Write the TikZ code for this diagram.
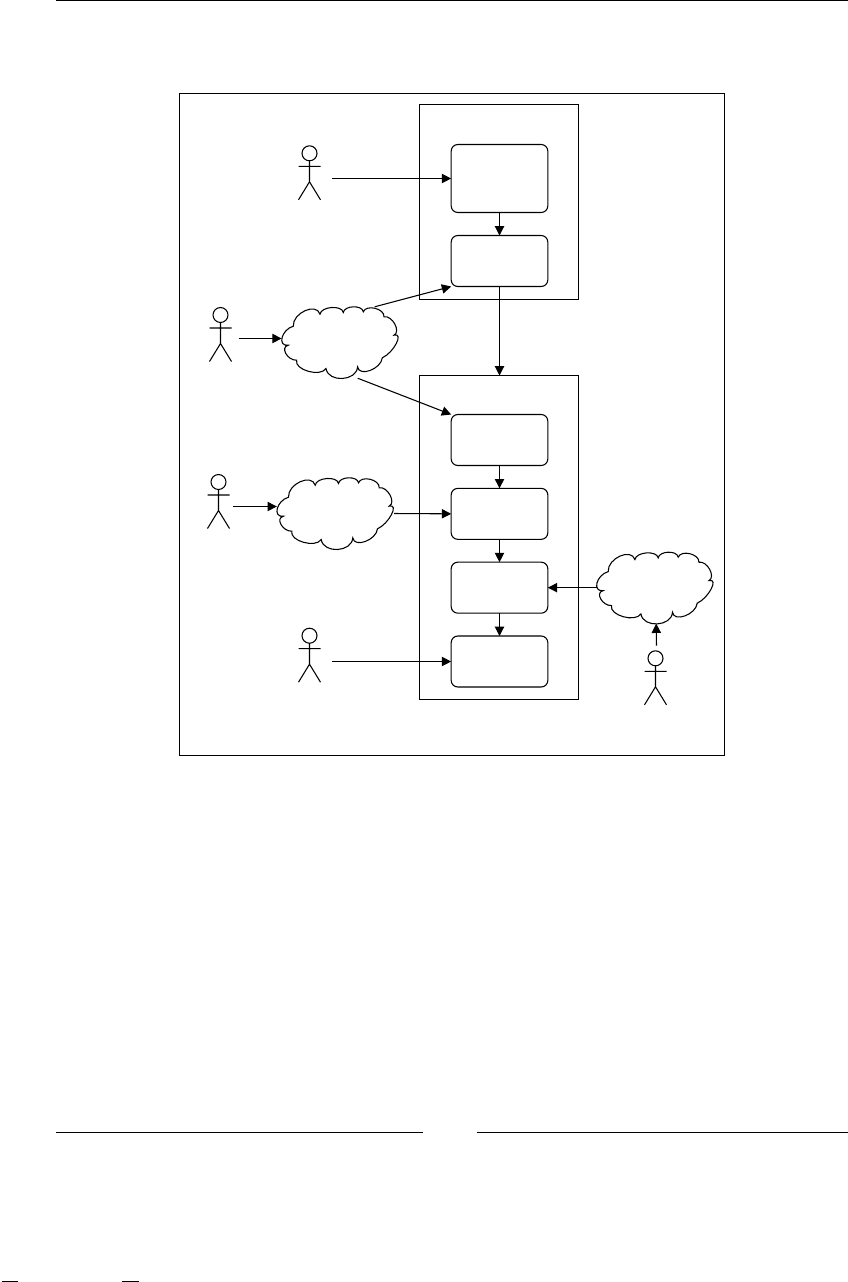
\documentclass[tikz,border=0pt]{standalone}
\usepackage{tikz}
\usetikzlibrary{arrows.meta, positioning, calc}
\newcommand{\puff}[3]{.. controls ($1.3333*(#2)+0.2833*(#1)-0.6166*(#3)$) and ($1.3333*(#2)-0.6166*(#1)+0.2833*(#3)$) .. (#3)}
\tikzset{
    framebox/.style={rectangle, draw=black, line width=0.8pt, inner sep=0pt, outer sep=0pt},
    procbox/.style={rectangle, draw=black, fill=white, rounded corners=5pt, minimum width=72.5pt, minimum height=#1, line width=0.8pt, inner sep=0pt, outer sep=0pt},
    actorbox/.style={rectangle, minimum width=#1, minimum height=40.5pt, inner sep=0pt, outer sep=0pt},
    cloudbox/.style={rectangle, minimum width=88pt, minimum height=53.6pt, inner sep=0pt, outer sep=0pt},
    flowarrow/.style={-{Triangle[length=7pt, width=7pt]}, line width=0.8pt},
    pagerule/.style={line width=0.9pt},
    stickman/.pic={
        \draw[line width=0.8pt] (0,-19.5) circle (7.5);
        \draw[line width=0.8pt] (0,-12) -- (0,9) (-11,-6.5) -- (11,-6.5) (-11,27) -- (0,9) -- (11,27);
    },
    netcloud/.pic={
        \draw[line width=0.8pt, fill=white] (-52,2.7) \puff{-52,2.7}{-58.2,-5}{-47,-16.3} \puff{-47,-16.3}{-35.3,-31.8}{-20.3,-28.3}
            \puff{-20.3,-28.3}{-8.7,-35}{3,-30} \puff{3,-30}{13,-35.7}{23,-30.7} \puff{23,-30.7}{34.7,-34.2}{43.7,-25.7}
            \puff{43.7,-25.7}{54.5,-18.5}{53.7,-7.3} \puff{53.7,-7.3}{56,1}{42,15.3} \puff{42,15.3}{29.7,28}{17.3,24.3}
            \puff{17.3,24.3}{2,36}{-14.3,26} \puff{-14.3,26}{-32,28.8}{-43.7,17.7} \puff{-43.7,17.7}{-54.5,11}{-52,2.7} -- cycle;
    }
}

\begin{document}
\begin{tikzpicture}[x=0.75pt, y=-0.75pt, node distance=17.125pt and 17pt]

\useasboundingbox (0,0) rectangle (848,1282);

% page rules
\draw[pagerule] (56,0.5) -- (848,0.5);
\draw[pagerule] (56,1132.5) -- (423,1132.5);
\draw[pagerule] (477,1132.5) -- (848,1132.5);
\draw[line width=1.5pt] (2,1281.5) -- (18,1281.5);
\draw[line width=1.5pt] (122,1281.5) -- (139,1281.5);

\node[framebox, minimum width=408.75pt, minimum height=496.5pt] (outer) at (452,424.5) {};
\node[framebox, minimum width=119.25pt, minimum height=146.25pt] (upper) at (499,202) {};
\node[framebox, minimum width=119.25pt, minimum height=243pt] (lower) at (499,537.5) {};

\node[procbox=51pt] (boxa) at (499.5,178.5) {};
\node[procbox=38.25pt, below=17.25pt of boxa] (boxb) {};

\node[procbox=38.25pt] (boxc) at (499.5,440) {};
\node[procbox=38.25pt, below=of boxc] (boxd) {};
\node[procbox=38.25pt, below=of boxd] (boxe) {};
\node[procbox=38.25pt, below=of boxe] (boxf) {};

\node[actorbox=34pt] (act1) at (309.5,172.8) {};
\node[actorbox=27pt] (act2) at (220.5,334.5) {};
\node[actorbox=22pt] (act3) at (218.5,501.5) {};
\node[actorbox=34pt] (act4) at (309.5,655.2) {};
\node[actorbox=34pt] (act5) at (655.5,677.8) {};

\node[cloudbox] (net1) at (340.3,342.5) {};
\node[cloudbox] (net2) at (335.5,513.5) {};
\node[cloudbox] (net3) at (655.2,587.9) {};

\draw[flowarrow] (act1.east |- boxa.west) -- (boxa.west);
\draw[flowarrow] (boxa) -- (boxb);
\draw[flowarrow] (boxb.south) -- (boxb.south |- lower.north);
\draw[flowarrow] ([yshift=-3pt]act2.east) -- ([yshift=3pt]net1.west);
\draw[flowarrow] (net1.46) -- (boxb.south west);
\draw[flowarrow] (net1.-64) -- (boxc.north west);
\draw[flowarrow] ([yshift=-3.75pt]act3.east) -- ([yshift=5.25pt]net2.west);
\draw[flowarrow] (net2.east) -- (boxd.west);
\draw[flowarrow] (boxc) -- (boxd);
\draw[flowarrow] (boxd) -- (boxe);
\draw[flowarrow] (boxe) -- (boxf);
\draw[flowarrow] (net3.west |- boxe.east) -- (boxe.east);
\draw[flowarrow] ([xshift=0.75pt, yshift=3.8pt]act5.north) -- ([xshift=0.75pt]net3.south);
\draw[flowarrow] (act4.east |- boxf.west) -- (boxf.west);

\pic at (act1) {stickman};
\pic at (act2) {stickman};
\pic at (act3) {stickman};
\pic at (act4) {stickman};
\pic at (act5) {stickman};

\pic at (net1) {netcloud};
\pic at (net2) {netcloud};
\pic at (net3) {netcloud};

\end{tikzpicture}
\end{document}
